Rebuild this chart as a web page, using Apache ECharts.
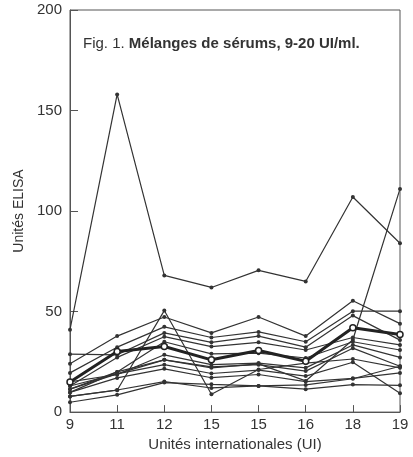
<!DOCTYPE html>
<html>
<head>
<meta charset="utf-8">
<script src="https://cdn.jsdelivr.net/npm/echarts@6/dist/echarts.min.js"></script>
<style>
  html, body { margin: 0; padding: 0; background: #fff; }
  #chart { width: 413px; height: 457px; }
</style>
</head>
<body>
<div id="chart"></div>
<script>
// categories (Unités internationales)
var categories = ['9', '11', '12', '15', '15', '16', '18', '19'];
var yTicks = [0, 50, 100, 150, 200];

// Unités ELISA, one array per serum pool
var serumA = [41, 158, 68, 62, 70.5, 65, 107, 84];
var serumB = [11.4, 19, 26, 22, 24, 15.5, 36, 111];
var serumC = [7.8, 10.9, 50.5, 8.9, 21.2, 24.4, 26.4, 22];
var serum1 = [24, 37.8, 47.3, 39.4, 47.3, 37.8, 55.4, 44];
var serum2 = [19.5, 32.3, 42.4, 37.1, 39.9, 35, 50.2, 50.2];
var serum3 = [28.8, 28.5, 39.4, 34.7, 37.8, 32.3, 48, 35.8];
var serum4 = [13, 27.2, 37.5, 32.6, 34.7, 30.9, 37.1, 33.4];
var serum5 = [11.4, 20, 35, 29, 29.3, 26.9, 35, 30.9];
var serum6 = [15, 18.7, 28.5, 23.6, 24.4, 22, 33.4, 27.2];
var serum7 = [9.8, 20, 26, 22.5, 23.6, 20.4, 31.8, 22.8];
var serum8 = [13, 19, 23.6, 19.2, 20.9, 17.9, 24.8, 9.4];
var serum9 = [9.8, 17, 21.5, 17.1, 18.7, 15.2, 16.8, 19.5];
var serum10 = [4.9, 8.6, 14.7, 13.8, 13, 11.4, 13.7, 13.3];
var serum11 = [7.8, 11, 15.2, 12, 13, 13.5, 16.6, 22.8];
var moyenne = [15, 30.1, 32.6, 26, 30.6, 25.3, 42, 38.6];

var thinSeries = [serumA, serumB, serumC, serum1, serum2, serum3, serum4,
  serum5, serum6, serum7, serum8, serum9, serum10, serum11];

var ink = '#333';

function thinLine(d) {
  return {
    type: 'line',
    data: d,
    symbol: 'circle',
    symbolSize: 4,
    lineStyle: { color: ink, width: 1.2 },
    itemStyle: { color: ink },
    animation: false,
    z: 2
  };
}

var series = thinSeries.map(thinLine);
series.push({
  type: 'line',
  data: moyenne,
  symbol: 'circle',
  symbolSize: 6,
  lineStyle: { color: '#222', width: 3 },
  itemStyle: { color: '#fff', borderColor: '#222', borderWidth: 1.5 },
  animation: false,
  z: 3
});

var chart = echarts.init(document.getElementById('chart'));
chart.setOption({
  backgroundColor: '#fff',
  animation: false,
  title: {
    text: '{n|Fig. 1. }{b|Mélanges de sérums, 9-20 UI/ml.}',
    left: 78,
    top: 31,
    textStyle: {
      fontWeight: 'normal',
      rich: {
        n: { fontFamily: 'Liberation Sans', fontSize: 15, fontWeight: 'normal', color: '#333' },
        b: { fontFamily: 'Liberation Sans', fontSize: 15, fontWeight: 'bold', color: '#333' }
      }
    }
  },
  grid: {
    left: 70, right: 13, top: 10, bottom: 37,
    show: true, borderColor: '#555', borderWidth: 1,
    containLabel: false
  },
  xAxis: {
    type: 'category',
    data: categories,
    boundaryGap: false,
    name: 'Unités internationales (UI)',
    nameLocation: 'middle',
    nameGap: 22,
    nameTextStyle: { fontFamily: 'Liberation Sans', fontSize: 15, color: '#333' },
    axisLine: { lineStyle: { color: '#555', width: 1 } },
    axisTick: { inside: true, length: 7, lineStyle: { color: '#555' } },
    axisLabel: { margin: 5, fontFamily: 'Liberation Sans', fontSize: 15, color: '#333', interval: 0 },
    splitLine: { show: false }
  },
  yAxis: {
    type: 'value',
    min: yTicks[0],
    max: yTicks[yTicks.length - 1],
    interval: 50,
    name: 'Unités ELISA',
    nameLocation: 'middle',
    nameGap: 44,
    nameTextStyle: { fontFamily: 'Liberation Sans', fontSize: 14, color: '#333' },
    axisLine: { show: true, lineStyle: { color: '#555', width: 1 } },
    axisTick: { show: true, inside: true, length: 8, lineStyle: { color: '#555' } },
    axisLabel: { margin: 8, fontFamily: 'Liberation Sans', fontSize: 15, color: '#333' },
    splitLine: { show: false }
  },
  series: series
});
</script>
</body>
</html>
